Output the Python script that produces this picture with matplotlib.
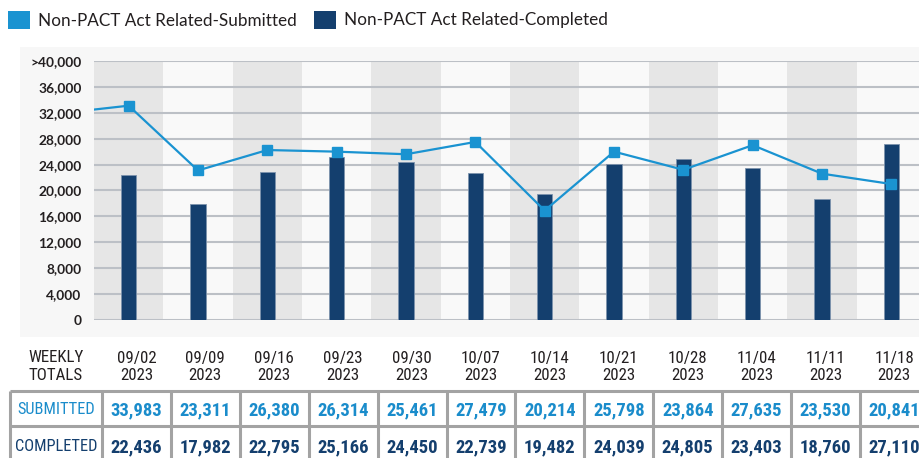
import matplotlib
matplotlib.use('Agg')
import os
import matplotlib.pyplot as plt
import numpy as np
from matplotlib import font_manager
from matplotlib.font_manager import FontProperties
from matplotlib.patches import Rectangle

# data
weeks = ['09/02', '09/09', '09/16', '09/23', '09/30', '10/07',
         '10/14', '10/21', '10/28', '11/04', '11/11', '11/18']
year = '2023'
submitted = [33983, 23311, 26380, 26314, 25461, 27479,
             20214, 25798, 23864, 27635, 23530, 20841]
completed = [22436, 17982, 22795, 25166, 24450, 22739,
             19482, 24039, 24805, 23403, 18760, 27110]
# the line as it is drawn in the chart (10/14 sits below its table value)
submitted_line = [33100, 23100, 26250, 26000, 25600, 27500,
                  16900, 26000, 23200, 27000, 22600, 21000]
prev_week = 31900   # week before 09/02, only its segment shows at the left edge
yticks = [0, 4000, 8000, 12000, 16000, 20000, 24000, 28000, 32000, 36000, 40000]
ytick_labels = ['0', '4,000', '8,000', '12,000', '16,000', '20,000',
                '24,000', '28,000', '32,000', '36,000', '>40,000']

# colours
LIGHT = '#1a93d1'
NAVY = '#143f6e'
TEXT = '#231f20'


def find_narrow():
    """Look for an installed condensed / narrow sans, regular and bold."""
    files = {}
    for f in font_manager.fontManager.ttflist:
        base = os.path.splitext(os.path.basename(f.fname))[0].lower()
        files[base] = f.fname
    pairs = [('liberationsansnarrow-regular', 'liberationsansnarrow-bold'),
             ('notosans-condensed', 'notosans-condensedbold'),
             ('opensans_condensed-regular', 'opensans_condensed-bold'),
             ('robotocondensed-regular', 'robotocondensed-bold'),
             ('dejavusanscondensed', 'dejavusanscondensed-bold')]
    for reg, bold in pairs:
        if reg in files and bold in files:
            return (FontProperties(fname=files[reg]),
                    FontProperties(fname=files[bold]), 1.0)
    return (FontProperties(family='Roboto'),
            FontProperties(family='Roboto', weight='bold'), 0.85)


NARROW, NARROW_B, SCALE = find_narrow()


def narrow(bold=False, size=11.5):
    fp = (NARROW_B if bold else NARROW).copy()
    fp.set_size(size*SCALE)
    return fp


W, H = 919, 458
fig = plt.figure(figsize=(W/100, H/100), dpi=100)

# light panel behind the chart
fig.add_artist(Rectangle((20/W, 1-337/H), (W-20)/W, 290/H,
                         transform=fig.transFigure, color='#f7f7f7',
                         zorder=0, lw=0))

ax = fig.add_axes([94/W, 1-320/H, 832/W, 259/H])
ax.set_facecolor('none')
n = len(weeks)
x = np.arange(n)

# alternating column bands
for i in range(n):
    ax.axvspan(i-0.5, i+0.5, color='#e6e6e6' if i % 2 == 0 else '#f9f9f9',
               lw=0, zorder=0)

for y in yticks:
    ax.axhline(y, color='#bcc0c6', lw=2.2 if y == 0 else 1.5, zorder=1)

ax.bar(x, completed, width=0.22, color=NAVY, edgecolor='#7d93ad',
       lw=0.6, zorder=2)

xs = np.arange(-1, n)
ys = [prev_week] + submitted_line
ax.plot(xs, ys, color=LIGHT, lw=1.6, marker='s', ms=7,
        markevery=list(range(1, n+1)), zorder=3)

ax.set_xlim(-0.5, n-0.5)
ax.set_ylim(0, 40000)
for s in ax.spines.values():
    s.set_visible(False)
ax.set_xticks([])
ax.set_yticks(yticks, ytick_labels)
ax.tick_params(length=0, pad=9)
for lbl in ax.get_yticklabels():
    lbl.set_fontfamily('Lato')
    lbl.set_fontweight('bold')
    lbl.set_fontsize(9.9)
    lbl.set_color(TEXT)

# overlay in pixel coordinates for legend and table
tab = fig.add_axes([0, 0, 1, 1])
tab.set_xlim(0, W)
tab.set_ylim(H, 0)
tab.axis('off')
tab.patch.set_alpha(0)

# legend
for lx, col, txt in [(8, LIGHT, 'Non-PACT Act Related-Submitted'),
                     (314, NAVY, 'Non-PACT Act Related-Completed')]:
    tab.add_patch(Rectangle((lx, 11), 22, 18, color=col, lw=0))
    tab.text(lx+30, 20.5, txt, fontsize=12.3, family='Lato', color=TEXT,
             va='center', ha='left')

# table
edges = 102 + 68.9*np.arange(n+1)
centers = (edges[:-1] + edges[1:])/2
tab.text(56, 362.5, 'WEEKLY', ha='center', va='baseline',
         fontproperties=narrow(size=12.2), color=TEXT)
tab.text(56, 379.5, 'TOTALS', ha='center', va='baseline',
         fontproperties=narrow(size=12.2), color=TEXT)
for cx, wk in zip(centers, weeks):
    tab.text(cx, 362.5, wk, ha='center', va='baseline',
             fontproperties=narrow(size=12.2), color=TEXT)
    tab.text(cx, 379.5, year, ha='center', va='baseline',
             fontproperties=narrow(size=12.2), color=TEXT)

tab.hlines([391, 426], 10, W, color='#a3a3a3', lw=2.2)
tab.vlines(np.concatenate([[10], edges]), 391, H+5, color='#a3a3a3', lw=2.2)

tab.text(56, 414.5, 'SUBMITTED', ha='center', va='baseline',
         fontproperties=narrow(size=11.8), color='#1a8ccb')
tab.text(56, 451, 'COMPLETED', ha='center', va='baseline',
         fontproperties=narrow(size=11.8), color=NAVY)
for cx, s, c in zip(centers, submitted, completed):
    tab.text(cx, 415.5, f'{s:,}', ha='center', va='baseline',
             fontproperties=narrow(True, 13.4), color='#1a8ccb')
    tab.text(cx, 452, f'{c:,}', ha='center', va='baseline',
             fontproperties=narrow(True, 13.4), color=NAVY)

plt.savefig('out.png', dpi=100)
